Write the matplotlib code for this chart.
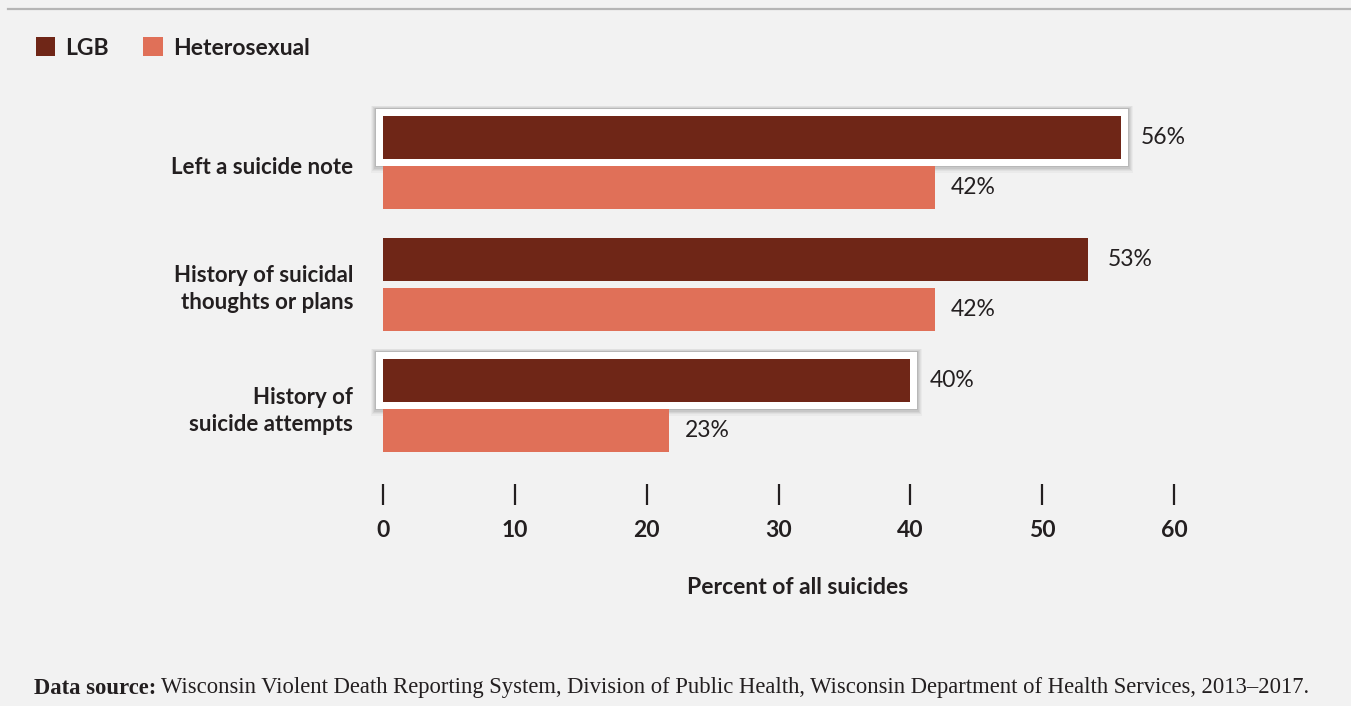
import matplotlib
matplotlib.use("Agg")
import matplotlib.pyplot as plt
import numpy as np
from matplotlib.patches import Rectangle, Patch

# data
categories = ["Left a suicide note", "History of suicidal\nthoughts or plans", "History of\nsuicide attempts"]
lgb = [56, 53.5, 40]
hetero = [41.9, 41.9, 21.7]
lgb_labels = ["56%", "53%", "40%"]
hetero_labels = ["42%", "42%", "23%"]
highlighted = [True, False, True]
ticks = [0, 10, 20, 30, 40, 50, 60]

bg = "#f2f2f2"
c_lgb = "#6f2617"
c_het = "#e07058"
txt = "#231f20"

W, H = 1351, 706
fig = plt.figure(figsize=(W / 100, H / 100), dpi=100, facecolor=bg)

# axes placed in pixel terms: x 0..60 -> 383..1174, group centers at 162.5 + 121.5*i
left, right = 383, 1174
top_px, bot_px = 90, 484
ax = fig.add_axes([left / W, 1 - bot_px / H, (right - left) / W, (bot_px - top_px) / H])
ax.set_facecolor(bg)
step = 121.5
c0 = 162.5
ax.set_xlim(0, 60)
ax.set_ylim((bot_px - c0) / step, (top_px - c0) / step)

y = np.arange(len(categories))
h = 43 / step
off = 25 / step
ax.barh(y - off, lgb, height=h, color=c_lgb, zorder=3)
ax.barh(y + off, hetero, height=h, color=c_het, zorder=3)

# white highlight boxes with soft shadow
px = 7 / 13.18
py = 7 / step
for i, hl in enumerate(highlighted):
    if not hl:
        continue
    x0, y0 = -px, y[i] - off - h / 2 - py
    w, hh = lgb[i] + 2 * px, h + 2 * py
    for k, a in enumerate([0.03, 0.04, 0.05, 0.06, 0.07]):
        g = (5 - k) * 1.0
        ax.add_patch(Rectangle((x0 - g / 13.18, y0 - g / step * 0.7), w + 2 * g / 13.18, hh + 2 * g / step,
                               facecolor="black", alpha=a, edgecolor="none", zorder=1, clip_on=False))
    ax.add_patch(Rectangle((x0, y0), w, hh, facecolor="white", edgecolor="none", zorder=2, clip_on=False))

# value labels
for i in range(len(categories)):
    ax.text(lgb[i] + 1.5, y[i] - off, lgb_labels[i], va="center", ha="left",
            fontsize=16.5, fontfamily="Lato", color=txt)
    ax.text(hetero[i] + 1.2, y[i] + off, hetero_labels[i], va="center", ha="left",
            fontsize=16.5, fontfamily="Lato", color=txt)

# category labels
for i, cat in enumerate(categories):
    ax.text(-2.25, y[i] + 0.045, cat, ha="right", va="center", fontsize=16, fontfamily="Lato",
            fontweight="bold", color=txt, linespacing=1.35)

for s in ax.spines.values():
    s.set_visible(False)
ax.set_yticks([])
ax.set_xticks(ticks)
ax.set_xticklabels([str(t) for t in ticks], fontsize=16.5, fontfamily="Lato", fontweight="bold", color=txt)
ax.tick_params(axis="x", direction="out", length=15, width=1.6, color=txt, pad=11)

fig.text(798 / W, 1 - 588 / H, "Percent of all suicides", ha="center", va="center",
         fontsize=16.5, fontfamily="Lato", fontweight="bold", color=txt)

# top rule
fig.add_artist(plt.Line2D([8 / W, 1], [1 - 9 / H, 1 - 9 / H], color="#b5b5b5", lw=1.6))

# legend
handles = [Patch(facecolor=c_lgb, label="LGB"), Patch(facecolor=c_het, label="Heterosexual")]
leg = fig.legend(handles=handles, loc="center left", bbox_to_anchor=(15 / W, 1 - 48 / H), ncol=2,
                 frameon=False, handlelength=0.85, handleheight=0.85, handletextpad=0.45,
                 columnspacing=1.5, prop={"family": "Lato", "weight": "bold", "size": 16.5})
for t in leg.get_texts():
    t.set_color(txt)

# footnote
fig.canvas.draw()
r = fig.canvas.get_renderer()
t1 = fig.text(34 / W, 1 - 688 / H, "Data source:", ha="left", va="center", fontsize=16.3,
              fontfamily="Liberation Serif", fontweight="bold", color=txt)
bb = t1.get_window_extent(renderer=r)
fig.text((bb.x1 + 5) / W, 1 - 688 / H,
         "Wisconsin Violent Death Reporting System, Division of Public Health, Wisconsin Department of Health Services, 2013\u20132017.",
         ha="left", va="center", fontsize=16.3, fontfamily="Liberation Serif", color=txt)

fig.savefig("out.png", dpi=100, facecolor=bg)
